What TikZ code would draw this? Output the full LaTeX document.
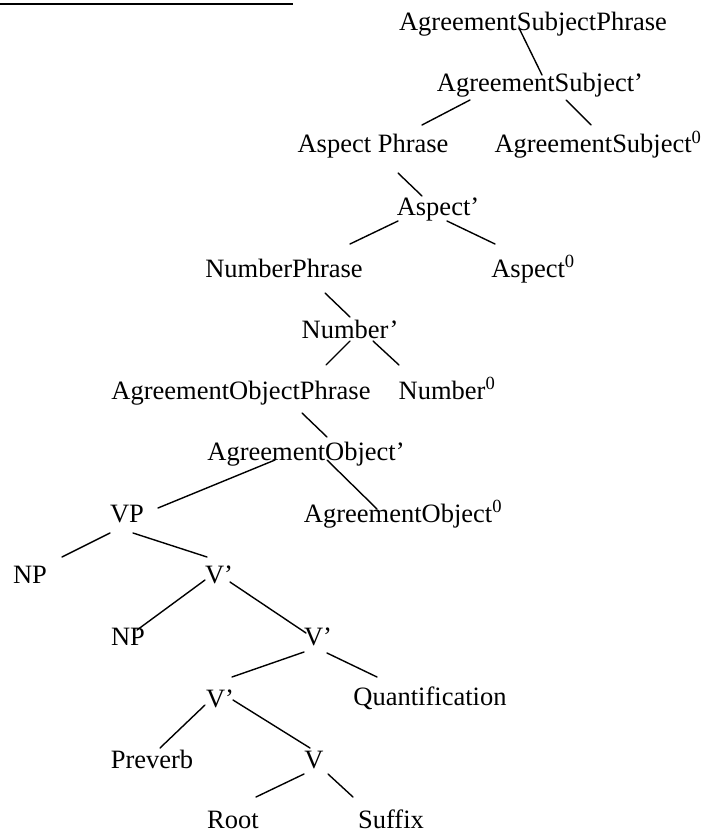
\documentclass[tikz,border=0pt]{standalone}
\usepackage{fontspec}
\setmainfont{Liberation Serif}
\begin{document}
\begin{tikzpicture}[x=1pt,y=-1pt,
  lbl/.style={anchor=base,inner sep=0pt,font=\fontsize{26.5}{30}\selectfont},
  edge/.style={line width=1.4pt,line cap=round}]
\useasboundingbox (0,0) rectangle (704,837);
\coordinate (ulA) at (0,4);
\coordinate (ulB) at (293,4);
\draw[line width=1.4pt] (ulA) -- (ulB);
\node[lbl] (asp) at (533,31) {AgreementSubjectPhrase};
\node[lbl] (asb) at (540,92) {AgreementSubject’};
\node[lbl] (aph) at (373,153) {Aspect Phrase};
\node[lbl] (as0) at (598,153) {AgreementSubject\textsuperscript{0}};
\node[lbl] (apr) at (438,215) {Aspect’};
\node[lbl] (nph) at (284,277) {NumberPhrase};
\node[lbl] (a0) at (533,277) {Aspect\textsuperscript{0}};
\node[lbl] (nbr) at (350,338) {Number’};
\node[lbl] (aop) at (241,399) {AgreementObjectPhrase};
\node[lbl] (n0) at (447,399) {Number\textsuperscript{0}};
\node[lbl] (aob) at (306,460) {AgreementObject’};
\node[lbl] (vp) at (127,522) {VP};
\node[lbl] (ao0) at (403,522) {AgreementObject\textsuperscript{0}};
\node[lbl] (np1) at (30,583) {NP};
\node[lbl] (v1) at (219,583) {V’};
\node[lbl] (np2) at (128,645) {NP};
\node[lbl] (v2) at (318,645) {V’};
\node[lbl] (v3) at (220,707) {V’};
\node[lbl] (qu) at (430,705) {Quantification};
\node[lbl] (pre) at (152,768) {Preverb};
\node[lbl] (vv) at (314,768) {V};
\node[lbl] (root) at (233,828) {Root};
\node[lbl] (suf) at (391,828) {Suffix};
\draw[edge] ([shift={(-14,-3)}]asp.base) -- ([shift={(2,-17)}]asb.base);
\draw[edge] ([shift={(-70,8)}]asb.base) -- ([shift={(49,-28)}]aph.base);
\draw[edge] ([shift={(26,8)}]asb.base) -- ([shift={(-7,-28)}]as0.base);
\draw[edge] ([shift={(25,20)}]aph.base) -- ([shift={(-16,-19)}]apr.base);
\draw[edge] ([shift={(-40,6)}]apr.base) -- ([shift={(66,-33)}]nph.base);
\draw[edge] ([shift={(9,6)}]apr.base) -- ([shift={(-38,-33)}]a0.base);
\draw[edge] ([shift={(41,16)}]nph.base) -- ([shift={(0,-21)}]nbr.base);
\draw[edge] ([shift={(0,3)}]nbr.base) -- ([shift={(85,-34)}]aop.base);
\draw[edge] ([shift={(23,3)}]nbr.base) -- ([shift={(-48,-34)}]n0.base);
\draw[edge] ([shift={(61,14)}]aop.base) -- ([shift={(21,-23)}]aob.base);
\draw[edge] ([shift={(-31,0)}]aob.base) -- ([shift={(31,-14)}]vp.base);
\draw[edge] ([shift={(21,0)}]aob.base) -- ([shift={(-26,-13)}]ao0.base);
\draw[edge] ([shift={(-17,11)}]vp.base) -- ([shift={(32,-26)}]np1.base);
\draw[edge] ([shift={(6,11)}]vp.base) -- ([shift={(-12,-26)}]v1.base);
\draw[edge] ([shift={(-14,-3)}]v1.base) -- ([shift={(9,-15)}]np2.base);
\draw[edge] ([shift={(11,-1)}]v1.base) -- ([shift={(-12,-12)}]v2.base);
\draw[edge] ([shift={(-14,7)}]v2.base) -- ([shift={(12,-30)}]v3.base);
\draw[edge] ([shift={(9,8)}]v2.base) -- ([shift={(-53,-28)}]qu.base);
\draw[edge] ([shift={(-15,-2)}]v3.base) -- ([shift={(8,-20)}]pre.base);
\draw[edge] ([shift={(13,-7)}]v3.base) -- ([shift={(-4,-20)}]vv.base);
\draw[edge] ([shift={(-10,6)}]vv.base) -- ([shift={(23,-31)}]root.base);
\draw[edge] ([shift={(14,6)}]vv.base) -- ([shift={(-38,-31)}]suf.base);
\end{tikzpicture}
\end{document}
